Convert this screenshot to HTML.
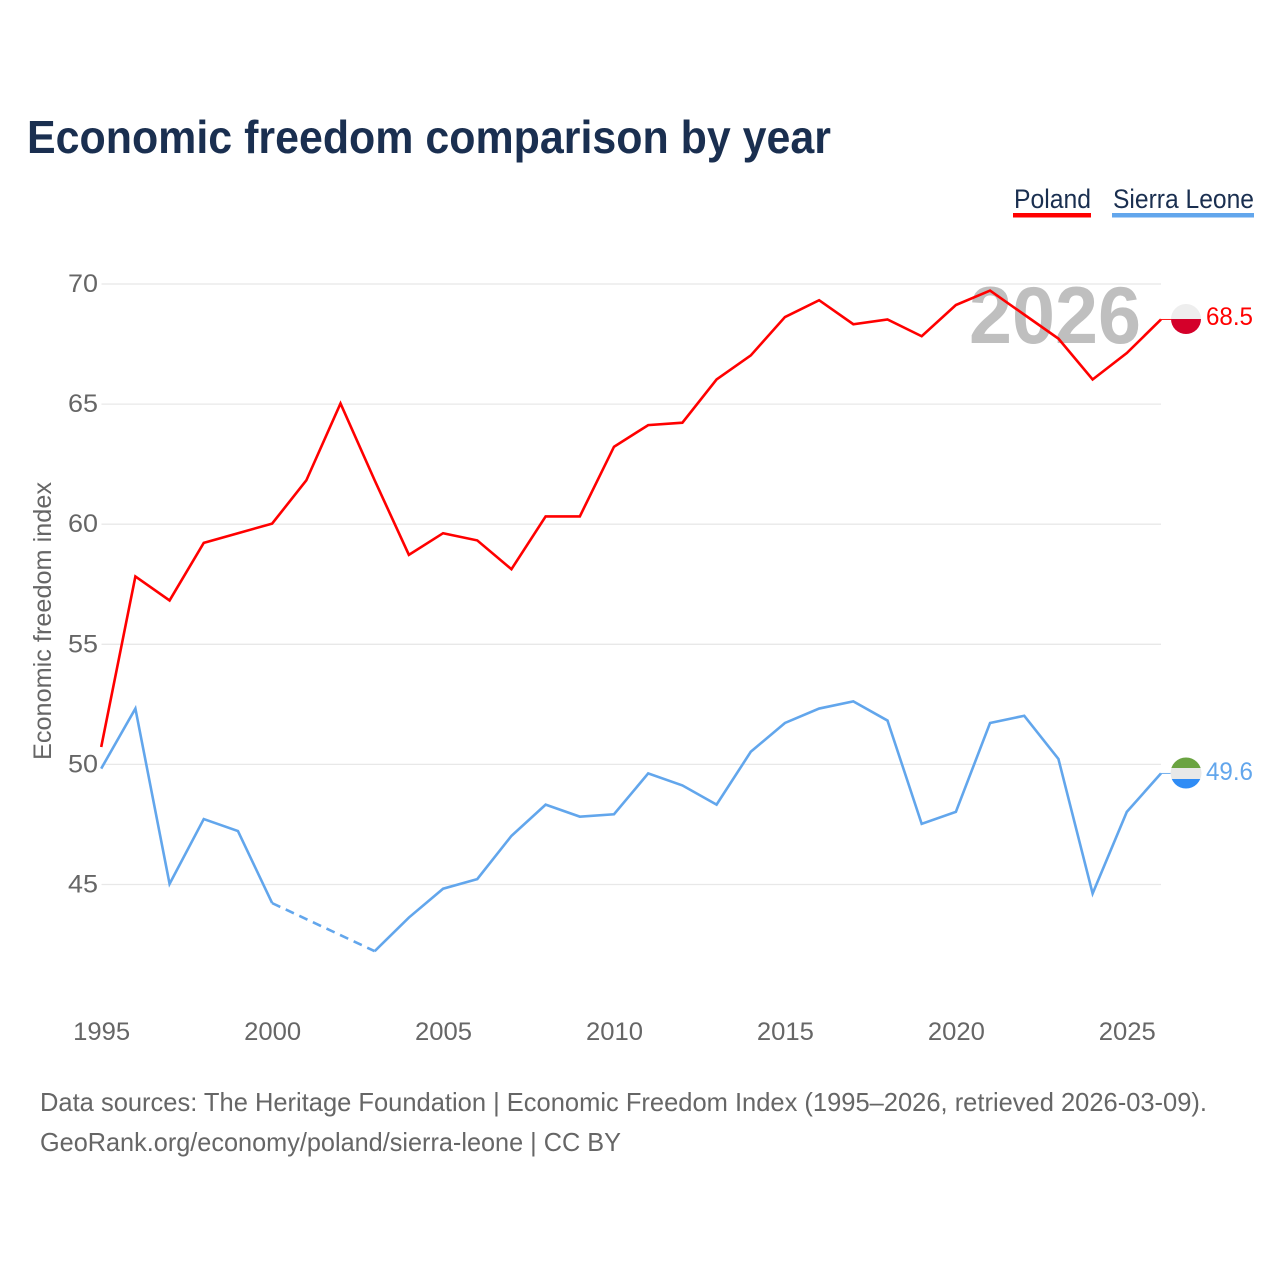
<!DOCTYPE html>
<html lang="en">
<head>
<meta charset="utf-8">
<title>Economic freedom comparison by year</title>
<style>
html,body{margin:0;padding:0;background:#fff}
svg{display:block;font-family:"Liberation Sans",sans-serif}
</style>
</head>
<body>
<svg id="chart" xmlns="http://www.w3.org/2000/svg" width="1280" height="1280" viewBox="0 0 1280 1280">
<rect x="0" y="0" width="1280" height="1280" fill="#fff"/>
<text x="27" y="153" font-size="46" font-weight="700" fill="#1a2f50" textLength="804" lengthAdjust="spacingAndGlyphs">Economic freedom comparison by year</text>
<g>
<text x="1014" y="208" font-size="27" fill="#1a2f50" textLength="77" lengthAdjust="spacingAndGlyphs">Poland</text>
<rect x="1013" y="213" width="78" height="4.5" fill="#ff0000"/>
</g>
<g>
<text x="1113" y="208" font-size="27" fill="#1a2f50" textLength="141" lengthAdjust="spacingAndGlyphs">Sierra Leone</text>
<rect x="1112" y="213" width="142" height="4.5" fill="#62a6ec"/>
</g>
<text transform="translate(51 760) rotate(-90)" font-size="25" fill="#666" textLength="278" lengthAdjust="spacingAndGlyphs">Economic freedom index</text>
<g id="grid"></g>
<g id="yticks"></g>
<g id="xticks"></g>
<text x="969" y="343" font-size="81" font-weight="700" fill="#bfbfbf" textLength="172" lengthAdjust="spacingAndGlyphs">2026</text>
<g id="series"></g>
<defs>
<clipPath id="clip-poland"><circle cx="1186" cy="319" r="15"/></clipPath>
<clipPath id="clip-sl"><circle cx="1186" cy="773" r="15.5"/></clipPath>
</defs>
<g id="flag-poland" clip-path="url(#clip-poland)">
<rect x="1170" y="303" width="32" height="16" fill="#eeeeee"/>
<rect x="1170" y="319" width="32" height="16" fill="#d4002a"/>
</g>
<g id="flag-sierra-leone" clip-path="url(#clip-sl)">
<rect x="1170" y="757" width="32" height="11" fill="#6aa341"/>
<rect x="1170" y="768" width="32" height="11" fill="#e8e8e8"/>
<rect x="1170" y="779" width="32" height="11" fill="#2f8cf5"/>
</g>
<text id="end-label-poland" x="1206" y="325" font-size="25" fill="#ff0000" textLength="47" lengthAdjust="spacingAndGlyphs"></text>
<text id="end-label-sl" x="1206" y="780" font-size="25" fill="#62a6ec" textLength="47" lengthAdjust="spacingAndGlyphs"></text>
<text x="40" y="1111" font-size="26" fill="#666" textLength="1167" lengthAdjust="spacingAndGlyphs">Data sources: The Heritage Foundation | Economic Freedom Index (1995–2026, retrieved 2026-03-09).</text>
<text x="40" y="1151" font-size="26" fill="#666" textLength="581" lengthAdjust="spacingAndGlyphs">GeoRank.org/economy/poland/sierra-leone | CC BY</text>
</svg>
<script>
const years = [1995,1996,1997,1998,1999,2000,2001,2002,2003,2004,2005,2006,2007,2008,2009,2010,2011,2012,2013,2014,2015,2016,2017,2018,2019,2020,2021,2022,2023,2024,2025,2026];
const poland = [50.7,57.8,56.8,59.2,59.6,60.0,61.8,65.0,61.8,58.7,59.6,59.3,58.1,60.3,60.3,63.2,64.1,64.2,66.0,67.0,68.6,69.3,68.3,68.5,67.8,69.1,69.7,68.7,67.7,66.0,67.1,68.5];
const sierraLeone = [49.8,52.3,45.0,47.7,47.2,44.2,null,null,42.2,43.6,44.8,45.2,47.0,48.3,47.8,47.9,49.6,49.1,48.3,50.5,51.7,52.3,52.6,51.8,47.5,48.0,51.7,52.0,50.2,44.6,48.0,49.6];
const yTickValues = [70,65,60,55,50,45];
const xTickValues = [1995,2000,2005,2010,2015,2020,2025];

const NS = 'http://www.w3.org/2000/svg';
function xScale(year){ return 101.2 + (year - 1995) * (1161 - 101.2) / 31; }
function yScale(v){ return 284 + (70 - v) * 24.02; }
function lineY(v){ return yScale(v) - 0.6; }
function make(tag, attrs, parent){
  const el = document.createElementNS(NS, tag);
  for (const k in attrs) el.setAttribute(k, attrs[k]);
  parent.appendChild(el);
  return el;
}
const grid = document.getElementById('grid');
const yticks = document.getElementById('yticks');
const xticks = document.getElementById('xticks');
const series = document.getElementById('series');

yTickValues.forEach(function(v){
  const line = make('line', {x1:101.5, x2:1161, y1:yScale(v), y2:yScale(v), stroke:'#e8e8e8', 'stroke-width':1.3}, grid);
  
  
  const label = make('text', {x:98, y:yScale(v)+8, 'text-anchor':'end', 'font-size':25, fill:'#666', textLength:30, lengthAdjust:'spacingAndGlyphs'}, yticks);
  
  
  label.textContent = String(v);
});
xTickValues.forEach(function(y){
  const label = make('text', {x:xScale(y)+0.5, y:1040, 'text-anchor':'middle', 'font-size':25, fill:'#666', textLength:57, lengthAdjust:'spacingAndGlyphs'}, xticks);
  
  
  label.textContent = String(y);
});

function drawSeries(values, color, name){
  let seg = [];
  let lastIdx = -1;
  function flush(){
    if (seg.length > 1) {
      const solid = make('polyline', {points:seg.join(' '), fill:'none', stroke:color, 'stroke-width':2.6, 'stroke-linejoin':'miter'}, series);
      
      
    }
    seg = [];
  }
  values.forEach(function(v, i){
    if (v === null) return;
    if (lastIdx >= 0 && i - lastIdx > 1) {
      flush();
      const gap = make('line', {x1:xScale(years[lastIdx]), y1:lineY(values[lastIdx]), x2:xScale(years[i]), y2:lineY(v), stroke:color, 'stroke-width':2.6, 'stroke-dasharray':'9 6'}, series);
      
      
    }
    seg.push(xScale(years[i]) + ',' + lineY(v));
    lastIdx = i;
  });
  flush();
  const lastVal = values[values.length - 1];
  const conn = make('line', {x1:1161, x2:1171, y1:lineY(lastVal), y2:lineY(lastVal), stroke:color, 'stroke-width':0.9}, series);
  
  
}
drawSeries(sierraLeone, '#62a6ec', 'sierra-leone');
drawSeries(poland, '#ff0000', 'poland');
document.getElementById('end-label-poland').textContent = poland[poland.length-1].toFixed(1);
document.getElementById('end-label-sl').textContent = sierraLeone[sierraLeone.length-1].toFixed(1);
</script>
</body>
</html>
